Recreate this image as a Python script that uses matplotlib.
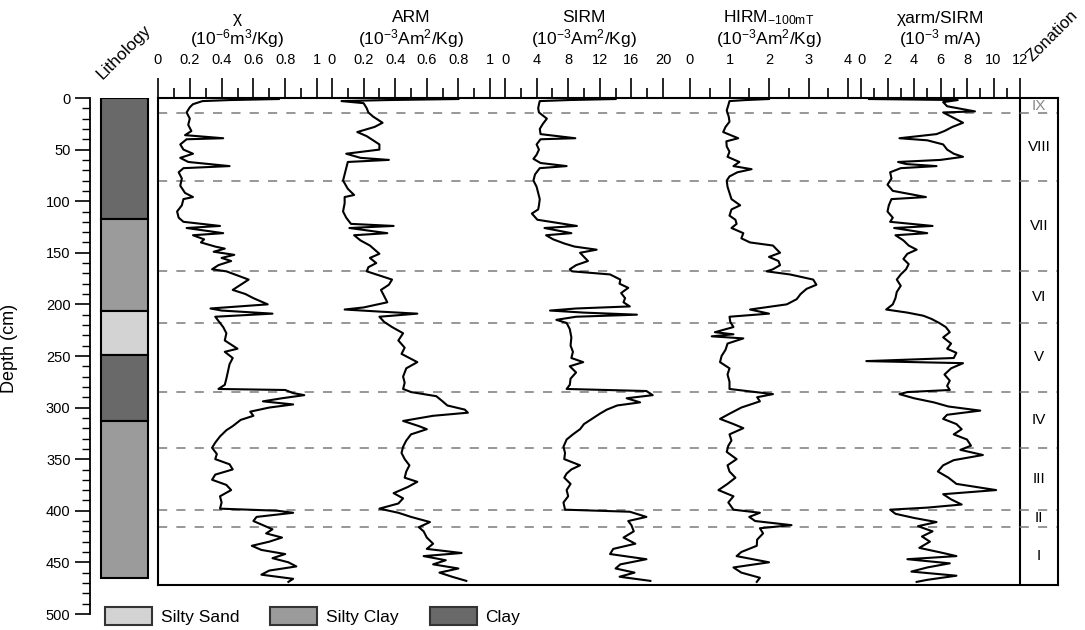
import matplotlib
matplotlib.use('Agg')
import matplotlib.pyplot as plt
from matplotlib.patches import Patch
from matplotlib.ticker import MultipleLocator, FormatStrFormatter

plt.rcParams['font.family'] = ['Liberation Sans', 'DejaVu Sans']
plt.rcParams['mathtext.fontset'] = 'custom'
plt.rcParams['mathtext.rm'] = 'Liberation Sans'
plt.rcParams['mathtext.it'] = 'Liberation Sans:italic'

# ---- data (depth in cm) ----
chi_depth = [1, 2, 3, 6, 9, 14, 20, 26, 32, 36, 39, 40, 45, 50, 54, 58, 62, 66, 68, 72, 78, 85, 92, 96, 98,
             104, 110, 116, 120, 124, 126, 131, 133, 137, 140, 144, 146, 149, 152, 155, 158, 162, 166, 168,
             172, 176, 181, 186, 190, 194, 200, 204, 206, 209, 212, 216, 222, 228, 235, 243, 246, 252, 258,
             265, 272, 278, 282, 283, 286, 288, 291, 294, 297, 300, 304, 308, 312, 318, 322, 328, 334, 339,
             345, 350, 355, 360, 365, 370, 375, 380, 386, 392, 398, 400, 402, 406, 410, 414, 418, 422, 426,
             430, 434, 438, 442, 446, 450, 454, 458, 462, 466, 469]
chi = [0.76, 0.45, 0.28, 0.22, 0.20, 0.18, 0.20, 0.19, 0.21, 0.17, 0.41, 0.18, 0.14, 0.16, 0.22, 0.14, 0.19,
       0.45, 0.16, 0.13, 0.15, 0.14, 0.17, 0.22, 0.16, 0.15, 0.12, 0.13, 0.16, 0.39, 0.18, 0.41, 0.22, 0.29,
       0.27, 0.36, 0.42, 0.35, 0.48, 0.40, 0.46, 0.38, 0.34, 0.43, 0.50, 0.57, 0.52, 0.47, 0.55, 0.60, 0.69,
       0.33, 0.40, 0.72, 0.36, 0.38, 0.41, 0.43, 0.42, 0.50, 0.42, 0.47, 0.45, 0.44, 0.43, 0.42, 0.38, 0.80,
       0.85, 0.92, 0.78, 0.66, 0.85, 0.70, 0.58, 0.60, 0.52, 0.47, 0.43, 0.39, 0.36, 0.34, 0.37, 0.36, 0.45,
       0.47, 0.36, 0.34, 0.43, 0.46, 0.39, 0.40, 0.39, 0.75, 0.85, 0.62, 0.60, 0.66, 0.72, 0.68, 0.78, 0.70,
       0.59, 0.65, 0.80, 0.72, 0.82, 0.87, 0.70, 0.65, 0.85, 0.82]

arm_depth = [1, 2, 3, 5, 10, 14, 18, 24, 28, 33, 37, 41, 45, 50, 54, 58, 60, 62, 68, 74, 80, 88, 94, 96, 102,
             110, 116, 122, 124, 126, 131, 133, 138, 143, 147, 151, 155, 160, 164, 168, 172, 176, 181, 186,
             192, 198, 203, 205, 207, 209, 212, 217, 222, 228, 235, 242, 248, 256, 262, 270, 276, 282, 285,
             289, 294, 298, 302, 305, 308, 313, 318, 321, 326, 332, 338, 344, 350, 356, 362, 368, 372, 377,
             383, 388, 393, 398, 402, 406, 411, 416, 420, 426, 432, 437, 441, 444, 448, 452, 456, 460, 464, 468]
arm = [0.80, 0.35, 0.06, 0.20, 0.22, 0.23, 0.26, 0.32, 0.27, 0.16, 0.22, 0.26, 0.30, 0.30, 0.09, 0.18, 0.36,
       0.10, 0.09, 0.08, 0.07, 0.10, 0.14, 0.08, 0.08, 0.07, 0.09, 0.12, 0.39, 0.11, 0.35, 0.14, 0.18, 0.24,
       0.27, 0.30, 0.24, 0.28, 0.23, 0.22, 0.30, 0.38, 0.36, 0.31, 0.33, 0.35, 0.20, 0.08, 0.30, 0.54, 0.30,
       0.33, 0.38, 0.45, 0.42, 0.46, 0.44, 0.54, 0.47, 0.45, 0.46, 0.45, 0.50, 0.66, 0.70, 0.73, 0.84, 0.86,
       0.64, 0.45, 0.55, 0.60, 0.50, 0.47, 0.45, 0.44, 0.46, 0.49, 0.47, 0.46, 0.54, 0.48, 0.39, 0.45, 0.42,
       0.30, 0.42, 0.50, 0.62, 0.55, 0.58, 0.60, 0.64, 0.60, 0.82, 0.58, 0.72, 0.64, 0.80, 0.68, 0.76, 0.85]

sirm_depth = [1, 2, 3, 6, 10, 14, 20, 25, 30, 35, 39, 40, 45, 50, 55, 59, 63, 66, 68, 74, 80, 86, 92, 98, 104,
              108, 112, 118, 124, 126, 131, 133, 137, 141, 144, 147, 150, 154, 158, 162, 166, 168, 171, 176,
              180, 184, 189, 194, 198, 202, 204, 206, 208, 210, 212, 215, 218, 224, 232, 240, 246, 252, 256,
              260, 266, 272, 278, 282, 284, 288, 291, 295, 298, 302, 306, 310, 316, 321, 326, 331, 338, 344,
              350, 356, 360, 364, 368, 374, 380, 386, 392, 399, 401, 406, 410, 414, 420, 426, 432, 437, 442,
              447, 452, 456, 460, 464, 468]
sirm = [14.0, 8.0, 4.4, 4.3, 4.2, 4.3, 5.3, 4.8, 4.4, 4.5, 8.9, 4.5, 4.0, 4.3, 4.0, 3.6, 4.5, 7.8, 4.4, 3.8,
        3.6, 4.0, 4.2, 4.4, 4.3, 4.2, 3.4, 4.1, 9.1, 5.0, 8.4, 5.2, 6.1, 7.5, 8.8, 11.6, 9.5, 10.0, 10.5, 9.0,
        8.2, 8.5, 13.3, 14.6, 14.5, 15.6, 14.7, 15.2, 15.0, 15.8, 9.0, 5.7, 10.0, 16.7, 9.0, 6.5, 7.8, 8.2,
        8.4, 8.3, 8.6, 8.4, 9.9, 8.2, 9.0, 8.3, 8.2, 7.8, 17.9, 18.7, 15.4, 17.1, 14.2, 12.9, 12.0, 11.2,
        10.0, 9.5, 8.6, 7.8, 7.4, 7.6, 7.5, 9.5, 8.4, 7.8, 7.5, 8.3, 7.8, 8.0, 7.4, 7.6, 15.8, 17.9, 15.6,
        16.0, 16.3, 15.0, 16.5, 13.7, 13.3, 17.9, 14.6, 14.0, 16.4, 14.5, 18.4]

hirm_depth = [1, 2, 3, 7, 12, 18, 23, 28, 33, 39, 42, 47, 52, 57, 62, 66, 69, 72, 76, 80, 86, 92, 98, 104, 108,
              114, 118, 122, 126, 131, 136, 140, 143, 147, 150, 154, 158, 162, 166, 168, 171, 176, 181, 185,
              190, 195, 200, 205, 209, 212, 217, 222, 227, 229, 231, 233, 238, 244, 250, 256, 262, 268, 275,
              282, 287, 290, 294, 300, 306, 311, 316, 320, 326, 332, 337, 343, 350, 356, 362, 368, 374, 380,
              386, 392, 399, 402, 406, 410, 414, 417, 422, 428, 434, 440, 444, 450, 455, 460, 465, 469]
hirm = [2.0, 1.4, 1.0, 0.97, 0.93, 0.98, 1.0, 0.90, 0.84, 1.22, 0.92, 0.93, 1.0, 0.95, 1.25, 1.1, 1.56, 1.2,
        1.0, 0.93, 0.95, 1.0, 1.05, 1.27, 1.05, 1.0, 1.15, 1.18, 1.05, 1.35, 1.3, 1.52, 2.1, 2.2, 2.28, 2.0,
        2.24, 2.28, 2.1, 1.94, 2.53, 3.12, 3.2, 2.95, 2.8, 2.7, 2.45, 1.52, 2.0, 1.0, 1.02, 1.1, 0.63, 1.1,
        0.55, 1.35, 0.95, 0.90, 0.80, 0.76, 1.0, 0.95, 1.0, 1.0, 2.1, 1.7, 1.77, 1.3, 1.0, 0.76, 1.1, 1.35,
        1.0, 1.05, 0.97, 0.93, 1.18, 0.95, 1.0, 1.15, 0.95, 0.72, 1.1, 0.97, 1.1, 1.77, 1.5, 1.65, 2.57, 1.77,
        1.85, 1.7, 1.69, 1.3, 1.18, 2.0, 1.1, 1.3, 1.77, 1.69]

ratio_depth = [1, 2, 4, 8, 13, 14, 18, 24, 28, 32, 35, 39, 41, 45, 50, 54, 57, 60, 62, 64, 66, 68, 72, 78, 84,
               90, 96, 98, 104, 110, 116, 120, 124, 126, 131, 133, 138, 143, 147, 151, 156, 161, 166, 171,
               176, 182, 188, 194, 200, 205, 208, 211, 214, 218, 222, 227, 232, 238, 243, 247, 252, 255, 257,
               262, 268, 274, 279, 283, 285, 287, 291, 295, 299, 303, 307, 311, 316, 321, 326, 331, 337, 341,
               346, 351, 356, 362, 368, 374, 380, 384, 389, 394, 397, 399, 403, 407, 411, 415, 420, 425, 430,
               436, 441, 444, 447, 451, 455, 459, 463, 467, 469]
ratio = [0.6, 7.3, 6.2, 6.5, 8.6, 6.2, 6.8, 7.7, 6.9, 6.3, 5.7, 2.9, 5.0, 6.2, 6.5, 7.0, 7.7, 6.0, 2.8, 3.4,
         5.7, 3.0, 2.2, 2.3, 2.0, 2.4, 4.9, 2.3, 2.1, 2.0, 2.4, 2.2, 5.4, 2.5, 5.0, 2.6, 3.2, 3.6, 4.2, 3.5,
         3.2, 3.6, 3.4, 3.0, 2.7, 3.0, 2.7, 2.6, 2.4, 1.9, 3.5, 4.7, 5.3, 5.9, 6.4, 6.7, 6.2, 6.8, 6.5, 7.2,
         7.0, 0.4, 7.7, 6.8, 6.3, 6.7, 6.5, 6.7, 3.5, 2.9, 4.0, 5.5, 6.6, 9.0, 6.5, 6.2, 7.2, 7.6, 7.0, 8.0,
         8.3, 7.5, 9.2, 7.0, 6.2, 5.8, 6.6, 7.2, 10.2, 6.2, 6.8, 7.6, 5.0, 2.2, 2.6, 4.0, 5.7, 4.3, 5.4, 4.6,
         5.2, 4.4, 6.2, 7.2, 3.5, 6.7, 5.0, 3.8, 7.2, 5.0, 4.2]

litho_top = [0, 117, 206, 249, 313]
litho_bottom = [117, 206, 249, 313, 465]
litho_type = ['Clay', 'Silty Clay', 'Silty Sand', 'Clay', 'Silty Clay']
litho_colors = {'Silty Sand': '#d3d3d3', 'Silty Clay': '#9b9b9b', 'Clay': '#696969'}

zone_bounds = [0, 15, 80, 168, 218, 285, 339, 399, 416, 472]
zone_names = ['IX', 'VIII', 'VII', 'VI', 'V', 'IV', 'III', 'II', 'I']

W, H = 1085.0, 630.0
BOTTOM = 472  # depth at the bottom of the data frame


def box(x0, y0, x1, y1):
    return [x0 / W, 1 - y1 / H, (x1 - x0) / W, (y1 - y0) / H]


fig = plt.figure(figsize=(W / 100, H / 100), dpi=100)

# depth axis + lithology column
dax = fig.add_axes(box(90, 98, 150, 614))
dax.set_ylim(500, 0)
dax.set_xlim(0, 1)
for s in ['top', 'right', 'bottom']:
    dax.spines[s].set_visible(False)
dax.spines['left'].set_linewidth(1.3)
dax.set_xticks([])
dax.yaxis.set_major_locator(MultipleLocator(50))
dax.yaxis.set_minor_locator(MultipleLocator(10))
dax.tick_params(axis='y', which='major', length=11, width=1.2, labelsize=10.5, pad=3)
dax.tick_params(axis='y', which='minor', length=5.5, width=1.0)
dax.patch.set_visible(False)
for t, b, kind in zip(litho_top, litho_bottom, litho_type):
    dax.bar(0.575, b - t, bottom=t, width=0.78, color=litho_colors[kind], edgecolor='black', linewidth=1.5)
dax.set_ylabel('Depth (cm)', fontsize=13)
dax.yaxis.set_label_coords(-1.2, 0.515)

# outer frame with zone lines and zonation column
frame = fig.add_axes(box(158, 98, 1058, 585))
frame.set_ylim(BOTTOM, 0)
frame.set_xlim(158, 1058)
frame.set_xticks([])
frame.set_yticks([])
for s in frame.spines.values():
    s.set_linewidth(1.5)
frame.axvline(1020, color='black', lw=1.5)
for zb in zone_bounds[1:-1]:
    frame.axhline(zb, color='#7a7a7a', lw=1.1, dashes=(6, 6))
for i, name in enumerate(zone_names):
    mid = (zone_bounds[i] + zone_bounds[i + 1]) / 2.0
    frame.text(1039, mid, name, ha='center', va='center', fontsize=11,
               color='#888888' if name == 'IX' else 'black')

panels = [
    (chi_depth, chi, (0, 1), 0.2, 0.1, '%g', 158, 317, u'\u03c7', '(10$^{-6}$m$^{3}$/Kg)'),
    (arm_depth, arm, (0, 1), 0.2, 0.1, '%g', 332, 490, 'ARM', '(10$^{-3}$Am$^{2}$/Kg)'),
    (sirm_depth, sirm, (0, 20), 4, 2, '%g', 505, 663, 'SIRM', '(10$^{-3}$Am$^{2}$/Kg)'),
    (hirm_depth, hirm, (0, 4), 1, 0.5, '%g', 690, 848, r'HIRM$_{\mathregular{-100mT}}$', '(10$^{-3}$Am$^{2}$/Kg)'),
    (ratio_depth, ratio, (0, 12), 2, 1, '%g', 861, 1020, u'\u03c7arm/SIRM', '(10$^{-3}$ m/A)'),
]

for depth, vals, xlim, major, minor, fmt, x0, x1, title, unit in panels:
    ax = fig.add_axes(box(x0, 98, x1, 585))
    ax.patch.set_visible(False)
    ax.plot(vals, depth, color='black', lw=1.5)
    ax.set_xlim(*xlim)
    ax.set_ylim(BOTTOM, 0)
    ax.set_yticks([])
    for s in ax.spines.values():
        s.set_visible(False)
    ax.xaxis.tick_top()
    ax.xaxis.set_major_locator(MultipleLocator(major))
    ax.xaxis.set_minor_locator(MultipleLocator(minor))
    ax.xaxis.set_major_formatter(FormatStrFormatter(fmt))
    ax.tick_params(axis='x', which='major', direction='out', length=14.5, width=1.2, pad=8, labelsize=10.5)
    ax.tick_params(axis='x', which='minor', direction='out', length=7, width=1.2)
    cx = (x0 + x1) / 2.0
    fig.text(cx / W, 1 - 18 / H, title, ha='center', va='center', fontsize=12.5)
    fig.text(cx / W, 1 - 39 / H, unit, ha='center', va='center', fontsize=12.5)

fig.text(124 / W, 1 - 52 / H, 'Lithology', rotation=45, ha='center', va='center', fontsize=12.5)
fig.text(1052 / W, 1 - 36 / H, 'Zonation', rotation=45, ha='center', va='center', fontsize=12)

handles = [Patch(facecolor=litho_colors[k], edgecolor='#333333', linewidth=1.5)
           for k in ['Silty Sand', 'Silty Clay', 'Clay']]
fig.legend(handles, ['Silty Sand', 'Silty Clay', 'Clay'], loc='center left',
           bbox_to_anchor=(105 / W, 1 - 616 / H), ncol=3, frameon=False, fontsize=12.5,
           handlelength=2.7, handleheight=1.3, handletextpad=0.5, columnspacing=1.8,
           borderpad=0, borderaxespad=0)

fig.savefig('out.png', dpi=100)
